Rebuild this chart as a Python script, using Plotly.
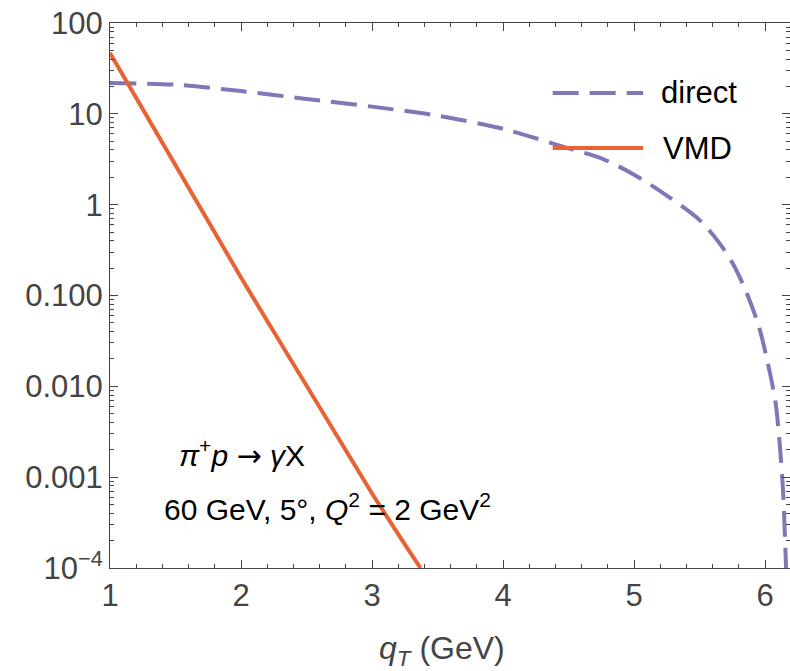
import plotly.graph_objects as go

# transverse momentum grid (GeV) and cross sections for the two mechanisms
qt_direct = [1.0, 1.5, 2.0, 2.5, 3.0, 3.5, 4.0, 4.5, 4.75, 5.0, 5.25, 5.5,
             5.65, 5.75, 5.85, 5.95, 6.02, 6.08, 6.115, 6.137, 6.15, 6.16]
sigma_direct = [21.9, 20.9, 17.8, 14.6, 12.0, 9.55, 6.84, 4.17, 3.24, 2.14,
                1.26, 0.676, 0.380, 0.229, 0.115, 0.0468, 0.0182, 0.0066,
                0.0020, 7.1e-4, 2.5e-4, 1.0e-4]

qt_vmd = [1.0, 1.25, 1.5, 1.75, 2.0, 2.25, 2.5, 2.75, 3.0, 3.25, 3.37]
sigma_vmd = [46.8, 11.2, 2.63, 0.646, 0.158, 0.0398, 0.0100, 0.00251,
             6.6e-4, 1.82e-4, 1.0e-4]

y_tickvals = [1e-4, 1e-3, 1e-2, 1e-1, 1, 10, 100]
y_ticktext = ["10<sup>\u22124</sup>", "0.001", "0.010", "0.100", "1", "10", "100"]
x_tickvals = [1, 2, 3, 4, 5, 6]
x_ticktext = ["1", "2", "3", "4", "5", "6"]

PURPLE = "rgb(128,118,184)"
ORANGE = "rgb(232,98,52)"
AXIS = "#444444"
LABEL = "#444444"
FONT = "Liberation Sans"
ARROW = '<span style="font-family:DejaVu Sans">\u2192</span>'

y_minor = [m * 10.0 ** e for e in range(-4, 2) for m in range(2, 10)]

fig = go.Figure()
fig.add_trace(go.Scatter(x=qt_direct, y=sigma_direct, mode="lines", name="direct",
                         line=dict(color=PURPLE, width=4, dash="26px,11px",
                                   shape="spline", smoothing=0.8),
                         showlegend=False))
fig.add_trace(go.Scatter(x=qt_vmd, y=sigma_vmd, mode="lines", name="VMD",
                         line=dict(color=ORANGE, width=4), showlegend=False))

fig.update_layout(
    xaxis=dict(range=[1, 6.19], tickvals=x_tickvals, ticktext=x_ticktext,
               ticks="inside", ticklen=8, tickwidth=1, tickcolor=AXIS,
               showline=True, linecolor=AXIS, mirror="allticks",
               minor=dict(ticks="inside", dtick=0.2, ticklen=4, tickcolor=AXIS),
               tickfont=dict(family=FONT, size=31, color=LABEL)),
    yaxis=dict(type="log", range=[-4, 2], tickvals=y_tickvals, ticktext=y_ticktext,
               ticks="inside", ticklen=8, tickwidth=1, tickcolor=AXIS,
               showline=True, linecolor=AXIS, mirror="allticks",
               minor=dict(ticks="inside", tickvals=y_minor, ticklen=4, tickcolor=AXIS),
               tickfont=dict(family=FONT, size=31, color=LABEL)),
)

# legend drawn inside the frame
fig.add_shape(type="line", xref="paper", yref="paper", x0=0.651, x1=0.784,
              y0=0.8716, y1=0.8716, line=dict(color=PURPLE, width=4, dash="26px,11px"))
fig.add_shape(type="line", xref="paper", yref="paper", x0=0.651, x1=0.784,
              y0=0.7706, y1=0.7706, line=dict(color=ORANGE, width=4))
fig.add_annotation(xref="paper", yref="paper", x=0.808, y=0.873, text="direct",
                   showarrow=False, xanchor="left", yanchor="middle",
                   font=dict(family=FONT, size=31, color="black"))
fig.add_annotation(xref="paper", yref="paper", x=0.810, y=0.7706, text="VMD",
                   showarrow=False, xanchor="left", yanchor="middle",
                   font=dict(family=FONT, size=31, color="black"))

# process and kinematics labels
fig.add_annotation(xref="paper", yref="paper", x=0.0985, y=0.211,
                   text="<i>\u03c0</i><sup>+</sup><i>p</i> " + ARROW + " <i>\u03b3</i>X",
                   showarrow=False, xanchor="left", yanchor="middle",
                   font=dict(family=FONT, size=30, color="black"))
fig.add_annotation(xref="paper", yref="paper", x=0.0765, y=0.112,
                   text="60 GeV, 5\u00b0, <i>Q</i><sup>2</sup> = 2 GeV<sup>2</sup>",
                   showarrow=False, xanchor="left", yanchor="middle",
                   font=dict(family=FONT, size=30, color="black"))

# x-axis title
fig.add_annotation(xref="paper", yref="paper", x=0.488, y=-0.152,
                   text="<i>q</i><sub><i>T</i></sub> (GeV)",
                   showarrow=False, xanchor="center", yanchor="middle",
                   font=dict(family=FONT, size=32, color=LABEL))

fig.update_layout(width=790, height=671, margin=dict(l=110, r=0, t=23, b=103),
                  paper_bgcolor="white", plot_bgcolor="white")

fig.write_html("out.html")
